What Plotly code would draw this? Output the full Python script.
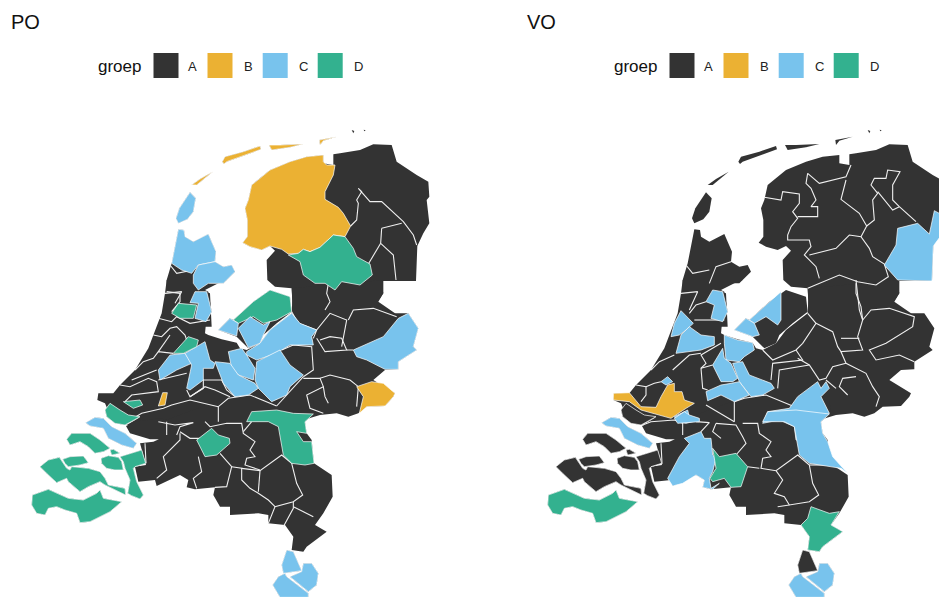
import plotly.graph_objects as go
from plotly.subplots import make_subplots

GROUPS = ["A", "B", "C", "D"]
COLORS = {"A": "#333333", "B": "#EBB133", "C": "#78C3ED", "D": "#33B18F"}
PANELS = ["PO", "VO"]

N = (160, 120)
M = (90, 280)
S = (20, 400)
D = (25, 400)
W_ = (100, 130)

# ---------- land outline ----------
TEXEL = (W_, [(270,187),(287,205),(280,245),(262,268),(235,280),(228,265),(238,235)])
VLIELAND = (W_, [(275,165),(300,147),(338,125),(310,148),(290,165)])
TERSCHELLING = (N, [(187,125),(195,110),(250,95),(300,78),(303,88),(255,105),(200,125),(192,132)])
AMELAND = (N, [(327,75),(360,75),(430,72),(390,82),(335,90)])
SCHIER = (N, [(478,60),(530,50),(490,62),(480,75)])
SPECK1 = (N, [(575,30),(583,33),(580,40)])
SPECK2 = (N, [(611,29),(617,31),(613,34)])
LAND = [
 (N, [(262,350),(262,300),(255,265),(265,240),(275,195),(300,175),(330,150),(390,125),(440,110),(490,105),(490,130),(520,135),(520,103),(540,100),(600,90),(640,73),(695,75),(710,125),(770,165),(805,185),(808,230),(800,240),(808,310),(790,340),(772,378),(768,483),(663,483),(670,520),(650,550),(700,580),(745,590),(745,620),(400,620),(395,505),(345,500),(322,480),(320,420),(345,392),(330,378),(305,390),(270,380),(248,368)]),
 (N, [(55,328),(72,330),(75,350),(100,365),(145,342),(168,395),(165,425),(190,440),(215,435),(225,455),(190,490),(145,490),(115,510),(150,520),(155,620),(20,620),(20,480),(35,430)]),
 TEXEL, VLIELAND, TERSCHELLING, AMELAND, SCHIER, SPECK1, SPECK2,
 (M, [(230,0),(410,0),(385,10),(345,30),(355,35),(365,95),(348,130),(345,160),(355,165),(395,178),(440,188),(450,205),(470,210),(510,190),(540,150),(605,100),(607,60),(605,25),(880,0),(880,40),(865,65),(915,100),(955,100),(985,145),(970,200),(980,210),(925,245),(925,268),(885,270),(850,300),(915,340),(910,350),(885,378),(830,380),(805,400),(775,410),(740,400),(690,405),(640,420),(640,480),(340,480),(230,440),(110,435),(150,412),(100,425),(60,405),(45,370),(22,360),(25,340),(70,340),(90,315),(135,270),(175,205),(190,165),(215,100),(225,40)]),
 (M, [(385,150),(420,115),(430,120),(490,65),(540,30),(600,50),(605,95),(560,130),(520,165),(510,190),(475,205),(440,170)]),
 (S, [(318,78),(345,65),(420,55),(440,60),(600,0),(880,0),(885,40),(855,65),(860,100),(875,120),(882,190),(935,225),(938,290),(910,340),(885,375),(920,395),(860,440),(850,455),(815,450),(820,410),(795,375),(745,370),(745,345),(715,340),(630,345),(630,320),(600,320),(580,285),(585,262),(545,265),(525,268),(500,262),(505,240),(480,225),(450,240),(410,258),(405,240),(355,245),(345,200),(378,195),(360,130),(400,125),(445,105),(420,118),(390,118),(350,105),(330,100)]),
]

# ---------- Delta, Limburg tail and other outlines shared by both panels ----------
SCHOUWEN = (D, [(182,68),(210,52),(235,55),(260,80),(300,100),(335,130),(325,145),(290,135),(250,115),(235,85),(195,78)])
GOEREE = (D, [(240,30),(255,10),(285,30),(310,45),(345,50),(300,75),(270,70),(245,50)])
NBEV = (D, [(125,118),(140,100),(195,100),(225,120),(255,145),(235,155),(210,160),(190,140),(165,125),(135,135)])
TOLEN = (D, [(255,150),(265,148),(285,160),(260,165)])
VEERE = (D, [(113,178),(135,170),(175,168),(190,188),(165,195),(130,200),(120,190)])
WALCH = (D, [(45,200),(70,180),(103,172),(125,205),(135,210),(140,200),(190,205),(225,215),(240,235),(250,255),(285,262),(300,265),(302,285),(270,270),(240,255),(225,245),(190,260),(165,275),(130,245),(125,235),(95,248),(65,220)])
KAPEL = (D, [(228,175),(250,167),(280,172),(290,185),(295,210),(270,210),(245,205),(230,190)])
REIM = (D, [(285,170),(330,155),(350,150),(362,190),(330,200),(325,205),(335,245),(355,285),(345,297),(320,287),(308,280),(315,240),(300,205),(295,185)])
ZVL = (D, [(22,285),(70,268),(130,295),(175,300),(215,280),(225,270),(235,295),(280,305),(290,305),(255,335),(195,365),(165,368),(155,340),(120,330),(95,320),(70,325),(60,345),(35,340),(20,315)])
ML_WEST = (S, [(800,450),(820,455),(845,512),(790,520),(785,495)])
ML_EAST = (S, [(850,490),(875,490),(895,520),(890,555),(865,575),(810,530),(845,515)])
ML_SOUTH = (S, [(795,520),(800,530),(865,580),(865,592),(780,592),(758,555),(775,530)])
DELTA_LAND = [SCHOUWEN, GOEREE, NBEV, TOLEN, VEERE, WALCH, KAPEL, REIM, ZVL, ML_WEST, ML_EAST, ML_SOUTH]

# ---------- PO areas ----------
PO_FRIESLAND = (N, [(490,105),(440,110),(390,125),(330,150),(300,175),(275,195),(265,240),(255,265),(262,300),(262,350),(248,368),(270,380),(305,390),(330,378),(365,388),(385,402),(415,400),(430,388),(450,395),(480,382),(520,345),(555,350),(572,318),(550,280),(535,262),(495,238),(495,215),(520,165),(525,135),(500,135),(490,125)])
PO_STEENW = (N, [(385,405),(415,400),(430,388),(450,395),(480,382),(520,345),(555,350),(580,385),(590,410),(630,432),(637,465),(600,495),(545,485),(525,510),(495,490),(465,490),(430,465),(420,425)])
PO_NH1 = (N, [(55,328),(72,330),(75,350),(100,365),(145,342),(168,395),(165,425),(115,435),(95,460),(65,450),(35,430)])
PO_NH2 = (N, [(100,465),(115,435),(165,425),(190,440),(215,435),(225,455),(190,490),(145,490),(115,510),(100,490)])
PO_NH3 = (M, [(315,35),(350,35),(365,95),(348,125),(315,115),(325,70),(300,68)])
PO_NH4 = (M, [(265,70),(320,75),(310,115),(270,115),(245,100)])
PO_FLEVO = (M, [(430,120),(490,65),(540,30),(600,50),(605,95),(560,120),(520,130),(490,110),(445,130)])
PO_ALM1 = (M, [(385,150),(420,115),(445,130),(440,168)])
PO_ALM2 = (M, [(445,145),(480,110),(520,135),(540,125),(520,165),(510,190),(475,203)])
PO_VELUWE = (M, [(470,215),(510,190),(540,150),(605,100),(630,130),(680,150),(665,170),(670,195),(600,195),(575,210),(545,225),(500,240),(470,225)])
PO_ARNHEM = (M, [(500,245),(550,220),(570,210),(600,255),(640,285),(600,320),(590,345),(545,365),(505,325),(495,300)])
PO_UTR1 = (M, [(415,215),(455,205),(470,225),(480,240),(495,265),(490,300),(445,285),(425,265)])
PO_UTR2 = (M, [(375,245),(420,250),(445,285),(495,310),(505,325),(475,345),(435,350),(400,310)])
PO_LEID = (M, [(205,270),(240,225),(285,220),(305,250),(260,270),(210,300)])
PO_GOUD = (M, [(285,220),(345,185),(360,240),(375,250),(370,265),(340,265),(340,300),(300,330),(290,325),(305,255)])
PO_HAARL = (M, [(250,220),(295,170),(325,180),(320,200),(280,220)])
PO_DORDT = (M, [(205,378),(218,338),(232,338),(225,375)])
PO_ROZ = (M, [(100,365),(150,360),(158,375),(130,385)])
PO_TWENTE = (M, [(790,210),(880,170),(925,115),(955,100),(985,145),(970,200),(980,210),(925,245),(925,268),(885,268),(830,240),(800,230)])
PO_WINT = (M, [(800,320),(845,305),(880,310),(915,340),(910,350),(885,378),(830,380),(808,400),(820,350)])
PO_LIMB = (S, [(680,65),(695,35),(770,30),(820,40),(880,42),(855,65),(860,100),(830,95),(850,125),(875,125),(882,190),(855,195),(815,190),(790,165),(775,80),(745,65)])
PO_DENB = (S, [(530,120),(575,85),(595,105),(628,115),(630,130),(590,165),(555,170)])

PO_AREAS = [
 (PO_FRIESLAND,"B"),(VLIELAND,"B"),(TERSCHELLING,"B"),(AMELAND,"B"),(SCHIER,"B"),(TEXEL,"C"),
 (PO_STEENW,"D"),(PO_NH1,"C"),(PO_NH2,"C"),(PO_NH3,"C"),(PO_NH4,"D"),(PO_FLEVO,"D"),
 (PO_ALM1,"C"),(PO_ALM2,"C"),(PO_VELUWE,"C"),(PO_ARNHEM,"C"),(PO_UTR1,"C"),(PO_UTR2,"C"),
 (PO_LEID,"C"),(PO_GOUD,"C"),(PO_HAARL,"D"),(PO_DORDT,"B"),(PO_ROZ,"D"),(PO_TWENTE,"C"),
 (PO_WINT,"B"),(PO_LIMB,"D"),(PO_DENB,"D"),(SCHOUWEN,"C"),(GOEREE,"D"),(NBEV,"D"),(TOLEN,"D"),
 (VEERE,"D"),(WALCH,"D"),(KAPEL,"D"),(REIM,"D"),(ZVL,"D"),(ML_WEST,"C"),(ML_EAST,"C"),(ML_SOUTH,"C"),
]

PO_BORDERS = [
 (N,[(572,318),(590,300),(595,250),(590,240),(605,215),(595,205),(630,245),(665,245),(730,305),(760,345),(770,375)]),
 (N,[(665,325),(725,310)]),
 (N,[(665,325),(662,370),(700,405),(708,480)]),
 (N,[(662,370),(625,432)]),
 (N,[(20,515),(60,520),(60,545),(35,575)]),
 (N,[(30,435),(50,460),(100,450)]),
 (M,[(225,40),(275,35),(255,70)]),
 (M,[(205,115),(245,125),(260,110),(300,130),(360,120)]),
 (M,[(190,165),(215,170),(240,145),(260,140),(285,165),(290,180)]),
 (M,[(205,215),(240,165)]),
 (M,[(135,270),(160,245),(190,235),(205,215),(250,220)]),
 (M,[(125,300),(150,290),(200,270)]),
 (M,[(90,315),(120,320),(175,295),(200,305),(205,335),(125,345),(105,365)]),
 (M,[(205,300),(290,280)]),
 (M,[(290,330),(300,350),(340,325),(340,300),(395,300),(410,330),(435,350)]),
 (M,[(300,350),(345,320),(375,330),(420,350)]),
 (M,[(385,425),(385,380),(415,355),(480,345),(560,378)]),
 (M,[(385,380),(300,360),(245,375),(220,385),(155,400),(105,430)]),
 (M,[(560,378),(590,345),(640,290)]),
 (M,[(575,210),(610,195),(665,200),(670,270),(640,290)]),
 (M,[(680,175),(705,215),(770,210),(755,175),(720,170),(690,180)]),
 (M,[(670,175),(680,150),(720,100),(770,120),(755,200)]),
 (M,[(605,95),(625,130),(680,150)]),
 (M,[(705,90),(720,65),(710,40),(715,10)]),
 (M,[(775,120),(790,90),(850,85),(920,110)]),
 (M,[(770,210),(790,210)]),
 (M,[(640,295),(690,295),(700,320),(650,345),(660,385),(700,400)]),
 (M,[(690,295),(720,285),(780,300),(805,320),(800,380)]),
 (M,[(700,320),(705,350),(715,370)]),
 (S,[(415,65),(465,75),(520,68),(480,80),(470,105)]),
 (S,[(440,65),(440,105)]),
 (S,[(480,95),(510,115),(555,115)]),
 (S,[(555,65),(570,80),(620,70),(665,70),(670,100),(705,125),(690,150),(705,170),(680,175),(675,195),(720,210)]),
 (S,[(480,100),(480,120),(430,170),(440,210),(410,235)]),
 (S,[(535,170),(545,215),(520,235),(530,265)]),
 (S,[(600,160),(635,200),(620,260),(585,262)]),
 (S,[(635,200),(665,205),(665,240),(690,265),(715,280),(745,300),(765,320)]),
 (S,[(665,205),(720,212),(785,165),(815,190),(830,250),(848,285),(820,305),(765,320),(745,370)]),
 (S,[(720,212),(715,275)]),
 (S,[(820,305),(820,325),(790,380)]),
 (S,[(820,320),(880,350)]),
 (S,[(670,95),(695,65)]),
 (S,[(375,130),(378,190)]),
]

# ---------- VO areas ----------
VO_DRENTHE = (N, [(665,325),(725,310),(760,342),(775,272),(808,290),(800,340),(772,378),(768,483),(665,480),(625,435),(660,375)])
VO_ALKM = (M, [(300,65),(320,30),(350,35),(365,95),(350,125),(315,115),(325,75)])
VO_FLEVO = (M, [(430,120),(525,35),(525,120),(515,135),(480,110),(445,130)])
VO_ALM = (M, [(385,150),(420,115),(445,130),(460,165),(440,170)])
VO_HAARL = (M, [(195,170),(205,130),(225,92),(262,130),(240,150),(220,165)])
VO_AMST = (M, [(210,220),(225,165),(250,140),(285,165),(325,170),(325,195),(285,210),(240,215)])
VO_GOOI = (M, [(355,165),(395,180),(440,188),(445,210),(415,230),(400,245),(360,240),(355,190)])
VO_UTR1 = (M, [(320,255),(350,205),(355,235),(375,250),(395,295),(380,305),(345,305)])
VO_UTR2 = (M, [(380,250),(410,245),(430,285),(495,310),(505,325),(470,345),(435,350),(400,305)])
VO_UTR3 = (M, [(300,335),(345,315),(375,310),(400,305),(430,345),(385,365),(345,345),(305,362)])
VO_ROTT = (M, [(22,340),(70,338),(105,380),(150,382),(165,350),(185,315),(205,310),(205,335),(228,335),(235,360),(265,370),(240,385),(195,415),(160,405),(105,390),(70,365),(22,360)])
VO_DH = (M, [(165,305),(185,290),(200,305),(180,315)])
VO_DORDT = (M, [(205,410),(245,390),(250,410),(280,420),(240,430),(215,425)])
VO_NIJM = (M, [(470,430),(485,395),(550,385),(575,350),(635,305),(645,325),(660,305),(670,325),(645,350),(670,400),(640,420),(625,460),(660,480),(570,480),(565,440),(520,420)])
VO_LIMB = (S, [(680,65),(695,35),(780,30),(880,42),(855,65),(860,100),(875,125),(890,170),(935,220),(915,205),(820,190),(790,165),(775,80),(745,65)])
VO_BRAB = (S, [(445,115),(495,95),(505,115),(525,115),(530,165),(540,175),(530,215),(520,235),(525,265),(550,250),(530,268),(500,262),(505,240),(480,225),(440,250),(410,258),(395,235),(430,170),(460,130)])
VO_BRAB2 = (S, [(530,145),(550,170),(600,160),(635,200),(615,260),(585,262),(565,235),(530,245),(522,235),(540,205)])
VO_SLIMB = (S, [(825,320),(880,340),(910,335),(885,375),(920,395),(860,440),(850,455),(815,450),(820,410),(795,375),(815,355)])
VO_TOP = (S, [(415,55),(445,35),(460,45),(490,55),(490,65),(445,68),(425,70)])

VO_AREAS = [
 (VO_DRENTHE,"C"),(VO_ALKM,"C"),(VO_FLEVO,"C"),(VO_ALM,"C"),(VO_HAARL,"C"),(VO_AMST,"C"),
 (VO_GOOI,"C"),(VO_UTR1,"C"),(VO_UTR2,"C"),(VO_UTR3,"C"),(VO_ROTT,"B"),(VO_DH,"C"),(VO_DORDT,"C"),
 (VO_NIJM,"C"),(VO_LIMB,"C"),(VO_BRAB,"C"),(VO_BRAB2,"D"),(VO_SLIMB,"D"),(VO_TOP,"C"),
 (SCHOUWEN,"C"),(ZVL,"D"),(ML_EAST,"C"),(ML_SOUTH,"C"),(ML_WEST,"A"),(NBEV,"A"),(TOLEN,"A"),
 (VEERE,"A"),(WALCH,"A"),(KAPEL,"A"),(REIM,"A"),(GOEREE,"A"),
]

VO_BORDERS = [
 (N,[(265,232),(315,240),(320,215),(370,222),(370,250),(350,275),(365,295),(345,320),(335,345),(335,360),(400,360),(405,380),(385,405),(420,440),(430,475)]),
 (N,[(365,290),(425,290),(425,260),(405,260),(420,240),(405,205),(390,190),(395,160),(430,190),(510,170),(525,135)]),
 (N,[(510,180),(495,238),(550,280),(572,318),(555,350)]),
 (N,[(400,405),(440,395),(480,385),(520,345),(555,350),(580,385),(590,410),(625,432),(637,470),(600,495),(545,485),(490,465),(430,490),(395,505)]),
 (N,[(540,490),(540,520),(555,560),(560,600)]),
 (N,[(572,318),(595,300),(590,240),(605,220),(585,195),(595,175),(630,175),(635,150),(672,155),(650,195),(650,240),(670,260),(720,305)]),
 (N,[(605,215),(650,270),(670,260)]),
 (N,[(100,490),(120,440),(165,425)]),
 (N,[(30,435),(50,460),(100,450)]),
 (M,[(225,40),(275,35),(250,90)]),
 (M,[(250,100),(270,75),(300,65)]),
 (M,[(265,120),(355,120)]),
 (M,[(605,100),(630,130),(590,190),(570,210),(500,240),(470,210)]),
 (M,[(630,130),(680,155),(695,200),(705,215),(770,210),(755,170),(770,120),(760,90),(750,0)]),
 (M,[(770,120),(795,90),(850,85),(925,110),(920,140),(880,165),(840,190),(790,210),(810,240),(880,225),(925,245)]),
 (M,[(705,175),(760,175)]),
 (M,[(705,215),(720,250),(780,280),(800,320),(820,350),(810,380)]),
 (M,[(720,250),(680,260),(660,295),(640,300),(610,255),(575,235)]),
 (M,[(570,210),(590,240),(500,250),(495,300)]),
 (M,[(610,255),(520,270),(515,325)]),
 (M,[(750,290),(710,295),(700,320),(725,345)]),
 (M,[(660,300),(690,325)]),
 (M,[(345,190),(285,225),(300,250),(285,265),(290,325),(305,330)]),
 (M,[(200,270),(250,225),(285,220)]),
 (M,[(285,265),(320,255)]),
 (M,[(135,270),(160,245),(205,225)]),
 (M,[(120,320),(145,310),(165,305)]),
 (M,[(90,315),(120,320),(120,345),(105,365)]),
 (M,[(385,365),(385,425)]),
 (M,[(385,365),(415,355),(480,345),(560,378)]),
 (M,[(300,375),(385,425)]),
 (S,[(320,75),(345,65),(415,60),(440,70),(440,105)]),
 (S,[(480,65),(520,68),(495,95)]),
 (S,[(540,70),(530,95),(555,115)]),
 (S,[(540,70),(600,75),(620,110),(630,130),(600,165)]),
 (S,[(620,70),(665,70),(670,100),(705,125),(690,150),(705,170),(680,175),(675,205),(720,212),(785,165),(820,195),(830,250),(848,285),(820,305),(760,315),(745,290),(715,280),(740,240),(720,212)]),
 (S,[(670,205),(635,200)]),
 (S,[(820,195),(885,195)]),
 (S,[(760,315),(725,320)]),
 (S,[(375,130),(378,190),(340,200)]),
]

def to_map(shape):
    (x0, y0), pts = shape
    return [x0 + p[0] / 3 for p in pts], [y0 + p[1] / 3 for p in pts]

def closed(shape):
    x, y = to_map(shape)
    return x + x[:1], y + y[:1]

fig = make_subplots(rows=1, cols=2, horizontal_spacing=0)

def add_panel(col, areas, borders):
    for shape in LAND + DELTA_LAND:
        x, y = closed(shape)
        fig.add_trace(go.Scatter(x=x, y=y, mode="lines", fill="toself", fillcolor=COLORS["A"],
                                 line=dict(width=0, color=COLORS["A"]), hoverinfo="skip",
                                 showlegend=False), row=1, col=col)
    for shape in borders:
        x, y = to_map(shape)
        fig.add_trace(go.Scatter(x=x, y=y, mode="lines", line=dict(width=1.1, color="#F0F0F0"),
                                 hoverinfo="skip", showlegend=False), row=1, col=col)
    for shape, grp in areas:
        x, y = closed(shape)
        fig.add_trace(go.Scatter(x=x, y=y, mode="lines", fill="toself", fillcolor=COLORS[grp],
                                 line=dict(width=0.7, color="white"), hoverinfo="skip",
                                 showlegend=False), row=1, col=col)

add_panel(1, PO_AREAS, PO_BORDERS)
add_panel(2, VO_AREAS, VO_BORDERS)

W, H = 939, 597
OFFSET = 516
fig.update_xaxes(visible=False, fixedrange=True)
fig.update_yaxes(visible=False, fixedrange=True)
fig.update_layout(
    width=W, height=H, margin=dict(l=0, r=0, t=0, b=0),
    paper_bgcolor="white", plot_bgcolor="white", showlegend=False,
    xaxis=dict(domain=[0, 0.5], range=[0, W / 2]),
    yaxis=dict(domain=[0, 1], range=[H, 0]),
    xaxis2=dict(domain=[0.5, 1], range=[W / 2 - OFFSET, W - OFFSET]),
    yaxis2=dict(domain=[0, 1], range=[H, 0]),
)

FONT = "Liberation Sans, Arial, sans-serif"
SWATCH_X = [153.5, 207.5, 262.7, 317.7]
LABEL_X = [186, 242, 297, 352]

for k, panel in enumerate(PANELS):
    dx = k * OFFSET
    fig.add_annotation(xref="paper", yref="paper", x=(9 + dx) / W, y=1 - 22 / H, text=panel,
                       showarrow=False, xanchor="left", yanchor="middle",
                       font=dict(family=FONT, size=20, color="#111111"))
    fig.add_annotation(xref="paper", yref="paper", x=(96 + dx) / W, y=1 - 67 / H, text="groep",
                       showarrow=False, xanchor="left", yanchor="middle",
                       font=dict(family=FONT, size=17, color="#111111"))
    for g, sx, lx in zip(GROUPS, SWATCH_X, LABEL_X):
        fig.add_shape(type="rect", xref="paper", yref="paper",
                      x0=(sx + dx) / W, x1=(sx + dx + 25) / W, y0=1 - 78 / H, y1=1 - 53 / H,
                      fillcolor=COLORS[g], line=dict(width=0))
        fig.add_annotation(xref="paper", yref="paper", x=(lx + dx) / W, y=1 - 67 / H, text=g,
                           showarrow=False, xanchor="left", yanchor="middle",
                           font=dict(family=FONT, size=13, color="#222222"))

fig.write_html("out.html", config={"displayModeBar": False},
               post_script="document.body.style.margin='0';document.documentElement.style.overflow='hidden';")
